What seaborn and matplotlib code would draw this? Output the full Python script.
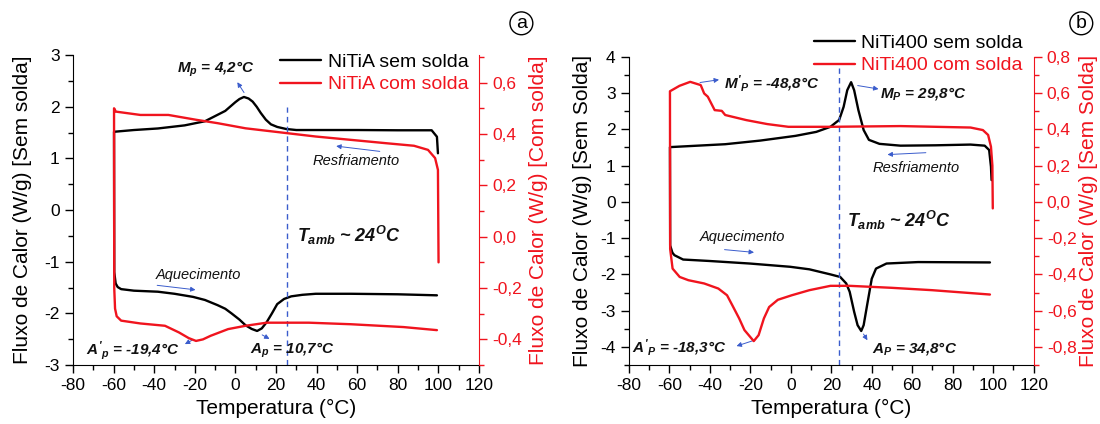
import numpy as np
import pandas as pd
import matplotlib
matplotlib.use('Agg')
import matplotlib.pyplot as plt
from matplotlib.ticker import MultipleLocator, FuncFormatter
import seaborn as sns

# ---- panel a : NiTiA ----
a_sem_cool_t = [99.8, 99.3, 96.7, 80, 60, 40, 30, 25, 20.6, 17.5, 15, 12.5, 10.5, 8.5, 6.5, 4.2, 2, 0, -5, -15, -25, -38.2, -50, -59.8]
a_sem_cool_v = [1.10, 1.42, 1.545, 1.545, 1.55, 1.55, 1.55, 1.57, 1.61, 1.66, 1.75, 1.88, 2.0, 2.10, 2.16, 2.19, 2.15, 2.09, 1.92, 1.72, 1.64, 1.58, 1.55, 1.516]
a_sem_heat_t = [-59.7, -59.0, -58.0, -56.3, -50, -38.2, -30, -20.9, -15, -8.8, -5, -1.9, 2, 5, 8, 10.7, 13, 15.4, 18, 20.6, 24, 27.5, 33, 39.6, 56.9, 80, 99.3]
a_sem_heat_v = [-1.2, -1.42, -1.49, -1.53, -1.56, -1.58, -1.62, -1.68, -1.74, -1.84, -1.91, -2.0, -2.12, -2.23, -2.30, -2.34, -2.29, -2.17, -2.0, -1.82, -1.72, -1.67, -1.64, -1.62, -1.62, -1.63, -1.65]
a_com_cool_t = [100.1, 99.8, 98.4, 94.9, 88.0, 74.2, 56.9, 39.6, 22.3, 5.0, -8.8, -19.2, -33.0, -46.8, -58.9, -59.8]
a_com_cool_v = [-0.10, 0.26, 0.306, 0.338, 0.354, 0.364, 0.377, 0.39, 0.406, 0.422, 0.442, 0.455, 0.474, 0.474, 0.487, 0.50]
a_com_heat_t = [-59.7, -59.3, -58.5, -56.3, -46.8, -34.7, -27.8, -23, -19.4, -16, -12.2, -3.6, 5.0, 15.4, 36.2, 56.9, 82.8, 99.3]
a_com_heat_v = [-0.20, -0.28, -0.31, -0.327, -0.338, -0.347, -0.373, -0.395, -0.406, -0.40, -0.386, -0.36, -0.347, -0.335, -0.335, -0.341, -0.352, -0.364]

# ---- panel b : NiTi400 ----
b_sem_cool_t = [99.2, 98.9, 98.0, 95.8, 88.8, 71.5, 54.2, 43.8, 38.6, 36.0, 33.4, 31.3, 29.8, 27.9, 26.1, 23.9, 19.6, 12.6, 2.3, -15.1, -32.4, -59.7]
b_sem_cool_v = [0.6, 0.97, 1.43, 1.55, 1.58, 1.56, 1.55, 1.60, 1.71, 1.98, 2.53, 3.08, 3.30, 3.08, 2.62, 2.26, 2.07, 1.93, 1.82, 1.69, 1.59, 1.51]
b_sem_heat_t = [-59.6, -58.5, -57.5, -53.2, -40.2, -20.3, -0.3, 9.2, 19.6, 24.4, 27.4, 29.1, 31.3, 33.0, 34.8, 36.0, 37.7, 40.0, 42.1, 47.3, 62.9, 98.4]
b_sem_heat_v = [-1.2, -1.40, -1.47, -1.59, -1.63, -1.70, -1.79, -1.86, -2.0, -2.07, -2.25, -2.48, -3.03, -3.40, -3.56, -3.40, -2.85, -2.12, -1.84, -1.70, -1.66, -1.67]
b_com_cool_t = [99.8, 99.6, 98.9, 97.5, 94.9, 88.8, 54.2, 19.6, -1.2, -11.6, -22.0, -32.4, -34.1, -37.6, -39.3, -41.0, -42.8, -44.5, -49.7, -55, -59.7]
b_com_cool_v = [-0.036, 0.2, 0.304, 0.369, 0.396, 0.410, 0.418, 0.414, 0.414, 0.429, 0.451, 0.479, 0.502, 0.506, 0.543, 0.58, 0.598, 0.644, 0.662, 0.64, 0.61]
b_com_heat_t = [-59.6, -58.4, -54.9, -50.6, -42.8, -35.8, -31.5, -28.9, -25.5, -22.9, -18.3, -15.9, -13.3, -10.7, -6.4, 0.5, 9.2, 19.6, 29.1, 49.9, 69.8, 98.4]
b_com_heat_v = [-0.26, -0.368, -0.414, -0.432, -0.45, -0.478, -0.515, -0.57, -0.643, -0.707, -0.768, -0.735, -0.643, -0.58, -0.54, -0.515, -0.487, -0.463, -0.463, -0.474, -0.487, -0.511]

RED = '#f0141e'
BLUE = '#3a5ccc'

sns.set_style('ticks')
plt.rcParams['font.family'] = ['Liberation Sans', 'DejaVu Sans']
plt.rcParams['axes.unicode_minus'] = False
plt.rcParams['mathtext.fontset'] = 'custom'
plt.rcParams['mathtext.rm'] = 'Liberation Sans:italic:bold'
plt.rcParams['mathtext.it'] = 'Liberation Sans:italic:bold'
plt.rcParams['mathtext.bf'] = 'Liberation Sans:italic:bold'


def loop(cool_t, cool_v, heat_t, heat_v):
    return pd.DataFrame({'T': list(cool_t) + list(heat_t), 'Q': list(cool_v) + list(heat_v)})


def comma(v, pos):
    return f'{v:.1f}'.replace('.', ',')


def setup_panel(rect, ylim, ylim2):
    ax = fig.add_axes(rect)
    ax2 = ax.twinx()
    ax.set_xlim(-80, 120)
    ax.set_ylim(*ylim)
    ax2.set_ylim(*ylim2)
    ax.xaxis.set_major_locator(MultipleLocator(20))
    ax.xaxis.set_minor_locator(MultipleLocator(10))
    ax.yaxis.set_major_locator(MultipleLocator(1))
    ax.yaxis.set_minor_locator(MultipleLocator(0.5))
    ax2.yaxis.set_major_locator(MultipleLocator(0.2))
    ax2.yaxis.set_minor_locator(MultipleLocator(0.1))
    ax2.yaxis.set_major_formatter(FuncFormatter(comma))
    for a in (ax, ax2):
        a.spines['top'].set_visible(False)
        a.tick_params(which='major', direction='out', length=6, width=1, labelsize=12.5)
        a.tick_params(which='minor', direction='out', length=3.5, width=1)
    ax.spines['right'].set_visible(False)
    ax.spines['left'].set_color('black')
    ax.spines['bottom'].set_color('black')
    ax.tick_params(colors='black', which='both')
    ax2.spines['left'].set_visible(False)
    ax2.spines['bottom'].set_visible(False)
    ax2.spines['right'].set_color(RED)
    ax2.tick_params(axis='y', colors=RED, which='both')
    return ax, ax2


def labels(ax, ax2, ylabel, ylabel2, lab_x, lab2_x):
    ax.set_xlabel('Temperatura (°C)', fontsize=15, color='black')
    ax.xaxis.set_label_coords(0.5, -0.11)
    ax.set_ylabel(ylabel, fontsize=15, color='black')
    ax.yaxis.set_label_coords(lab_x, 0.5)
    ax2.set_ylabel(ylabel2, fontsize=15, color=RED)
    ax2.yaxis.set_label_coords(lab2_x, 0.5)


def arrow(ax, tail, head):
    ax.annotate('', xy=head, xytext=tail,
                arrowprops=dict(arrowstyle='-|>', color=BLUE, lw=0.7, mutation_scale=7))


def note(ax, x, y, s, size=11, italic_only=False):
    ax.text(x, y, s, ha='center', va='center', fontsize=size, color='#111111',
            style='italic', fontweight='normal' if italic_only else 'bold')


def finish_legend(ax, ax2, lines, names, anchor):
    leg = ax2.legend(lines, names, loc='center', bbox_to_anchor=anchor, frameon=False,
                     fontsize=14, handlelength=2.1, handletextpad=0.35, labelspacing=0.25,
                     borderaxespad=0, borderpad=0)
    for txt, ln in zip(leg.get_texts(), lines):
        txt.set_color(ln.get_color())


fig = plt.figure(figsize=(11, 4.24), dpi=100)

# ---------------- panel a ----------------
ax, ax2 = setup_panel([0.0664, 0.139, 0.369, 0.731], (-3, 3), (-0.5, 0.707))
sns.lineplot(data=loop(a_sem_cool_t, a_sem_cool_v, a_sem_heat_t, a_sem_heat_v), x='T', y='Q',
             sort=False, estimator=None, color='black', lw=1.7, ax=ax)
sns.lineplot(data=loop(a_com_cool_t, a_com_cool_v, a_com_heat_t, a_com_heat_v), x='T', y='Q',
             sort=False, estimator=None, color=RED, lw=1.7, ax=ax2)
labels(ax, ax2, 'Fluxo de Calor (W/g) [Sem solda]', 'Fluxo de Calor (W/g) [Com solda]',
       -0.101, 1.124)
ax.plot([25.5, 25.5], [-3, 2.0], ls=(0, (4, 3)), color=BLUE, lw=1.0)
note(ax, -9.6, 2.72, r'$M_p$ = 4,2°C')
arrow(ax, (5.0, 2.23), (0.2, 2.52))
note(ax, 59.5, 0.955, 'Resfriamento', size=10.5, italic_only=True)
arrow(ax, (72.5, 1.13), (48.3, 1.245))
note(ax, 56.0, -0.50, r'$T_{amb}$ ~ 24$^{O}$C', size=13)
note(ax, -18.3, -1.25, 'Aquecimento', size=10.5, italic_only=True)
arrow(ax, (-39.9, -1.45), (-18.3, -1.55))
note(ax, -50.3, -2.72, r"$A'_p$ = -19,4°C")
arrow(ax, (-20.0, -2.49), (-26.1, -2.62))
note(ax, 27.9, -2.72, r'$A_p$ = 10,7°C')
arrow(ax, (12.0, -2.39), (18.0, -2.52))
finish_legend(ax, ax2, [ax.lines[0], ax2.lines[0]], ['NiTiA sem solda', 'NiTiA com solda'],
              (0.742, 0.941))

# ---------------- panel b ----------------
bx, bx2 = setup_panel([0.5717, 0.139, 0.368, 0.727], (-4.5, 4), (-0.9, 0.8))
sns.lineplot(data=loop(b_sem_cool_t, b_sem_cool_v, b_sem_heat_t, b_sem_heat_v), x='T', y='Q',
             sort=False, estimator=None, color='black', lw=1.7, ax=bx)
sns.lineplot(data=loop(b_com_cool_t, b_com_cool_v, b_com_heat_t, b_com_heat_v), x='T', y='Q',
             sort=False, estimator=None, color=RED, lw=1.7, ax=bx2)
labels(bx, bx2, 'Fluxo de Calor (W/g) [Sem Solda]', 'Fluxo de Calor (W/g) [Sem Solda]',
       -0.091, 1.111)
bx.plot([23.9, 23.9], [-4.5, 3.68], ls=(0, (4, 3)), color=BLUE, lw=1.0)
note(bx, -9.5, 3.27, r"$M'_P$ = -48,8°C")
arrow(bx, (-46.2, 3.28), (-34.1, 3.38))
note(bx, 65.5, 2.99, r'$M_P$ = 29,8°C')
arrow(bx, (31.7, 3.22), (44.7, 3.10))
note(bx, 62.0, 0.94, 'Resfriamento', size=10.5, italic_only=True)
arrow(bx, (68.1, 1.36), (46.4, 1.30))
note(bx, 53.3, -0.51, r'$T_{amb}$ ~ 24$^{O}$C', size=13)
note(bx, -24.1, -0.97, 'Aquecimento', size=10.5, italic_only=True)
arrow(bx, (-34.1, -1.31), (-16.8, -1.40))
note(bx, -55.4, -4.03, r"$A'_P$ = -18,3°C")
arrow(bx, (-17.7, -3.81), (-28.1, -4.0))
note(bx, 61.1, -4.03, r'$A_P$ = 34,8°C')
arrow(bx, (35.2, -3.58), (38.6, -3.88))
finish_legend(bx, bx2, [bx.lines[0], bx2.lines[0]], ['NiTi400 sem solda', 'NiTi400 com solda'],
              (0.715, 1.008))

for lab, x in (('a', 0.474), ('b', 0.983)):
    fig.text(x, 0.945, lab, ha='center', va='center', fontsize=14, color='black',
             bbox=dict(boxstyle='circle,pad=0.15', fc='white', ec='black', lw=1))

fig.savefig('out.png', dpi=100)
